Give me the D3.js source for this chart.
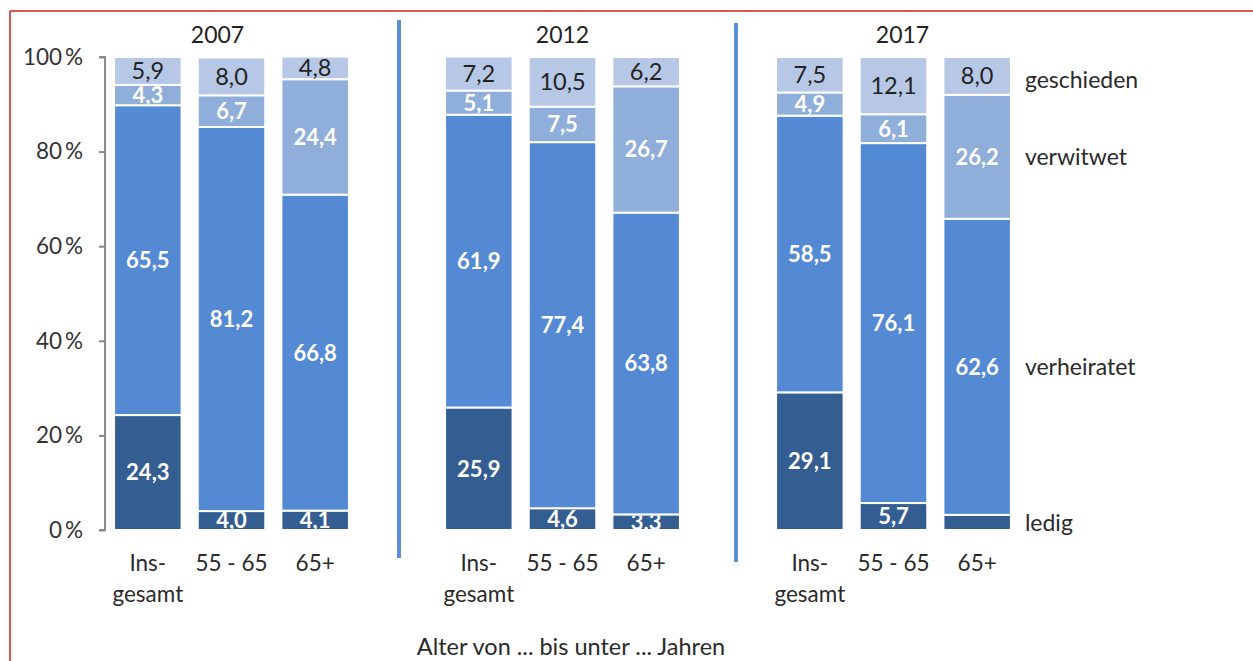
<!DOCTYPE html>
<html>
<head>
<meta charset="utf-8">
<script src="https://cdn.jsdelivr.net/npm/d3@7"></script>
<style>
  html, body { margin: 0; padding: 0; background: #fff; }
  svg { display: block; font-family: "Lato", "Open Sans", sans-serif; }
</style>
</head>
<body>
<svg id="chart" width="1253" height="661"></svg>
<script>
// ---- data ----
const years = ["2007", "2012", "2017"];
const groups = ["Ins-\ngesamt", "55 - 65", "65+"];
const statuses = ["ledig", "verheiratet", "verwitwet", "geschieden"];
// values per year, per age group (Ins-gesamt, 55 - 65, 65+)
const ledig       = { "2007": [24.3, 4.0, 4.1], "2012": [25.9, 4.6, 3.3], "2017": [29.1, 5.7, 3.2] };
const verheiratet = { "2007": [65.5, 81.2, 66.8], "2012": [61.9, 77.4, 63.8], "2017": [58.5, 76.1, 62.6] };
const verwitwet   = { "2007": [4.3, 6.7, 24.4], "2012": [5.1, 7.5, 26.7], "2017": [4.9, 6.1, 26.2] };
const geschieden  = { "2007": [5.9, 8.0, 4.8], "2012": [7.2, 10.5, 6.2], "2017": [7.5, 12.1, 8.0] };
// labels not printed in the original
const hiddenLabels = [["2017", "65+", "ledig"]];
const yTicks = [0, 20, 40, 60, 80, 100];
const axisTitle = "Alter von ... bis unter ... Jahren";

const seriesMap = { ledig, verheiratet, verwitwet, geschieden };
const colors = { ledig: "#345d92", verheiratet: "#548ad4", verwitwet: "#8faed9", geschieden: "#b6c8e6" };
const labelColor = { ledig: "#fff", verheiratet: "#fff", verwitwet: "#fff", geschieden: "#222" };
const labelWeight = { ledig: "bold", verheiratet: "bold", verwitwet: "bold", geschieden: "normal" };

const svg = d3.select("#chart");

// red frame (top + left)
svg.append("line").attr("x1", 10).attr("x2", 1253).attr("y1", 11).attr("y2", 11)
  .attr("stroke", "#d95555").attr("stroke-width", 2);
svg.append("line").attr("x1", 10).attr("x2", 10).attr("y1", 11).attr("y2", 661)
  .attr("stroke", "#d95555").attr("stroke-width", 2);

const y = d3.scaleLinear().domain([0, 100]).range([530, 57]);
const xOuter = d3.scaleBand().domain(years).range([66, 1059]);
const xInner = d3.scaleBand().domain(groups).range([40, 291]).paddingInner(0.193).paddingOuter(0.0965);

// y axis
const yAxis = d3.axisLeft(y).tickValues(yTicks).tickSize(6).tickPadding(16)
  .tickFormat(d => d + "\u2009%");
const ya = svg.append("g").attr("transform", "translate(105,0)").call(yAxis);
ya.select(".domain").attr("stroke", "#8a8a8a").attr("stroke-width", 2).attr("d", "M-6,530H0V57H-6");
ya.selectAll(".tick line").attr("stroke", "#8a8a8a").attr("stroke-width", 2);
ya.selectAll(".tick text").attr("fill", "#333").attr("font-size", 22.5)
  .attr("font-family", "Lato, sans-serif");

// build stacked records
const records = [];
years.forEach(yr => {
  groups.forEach((g, gi) => {
    let acc = 0;
    statuses.forEach(s => {
      const v = seriesMap[s][yr][gi];
      records.push({ year: yr, group: g, status: s, v, y0: acc, y1: acc + v });
      acc += v;
    });
  });
});

const defs = svg.append("defs");
const bars = svg.append("g");
records.forEach((r, i) => {
  const x = xOuter(r.year) + xInner(r.group);
  const w = xInner.bandwidth();
  const top = y(r.y1), bot = y(r.y0);
  bars.append("rect")
    .attr("x", x).attr("y", top).attr("width", w).attr("height", bot - top)
    .attr("fill", colors[r.status]).attr("stroke", "#fff").attr("stroke-width", 2);
  const hidden = hiddenLabels.some(h => h[0] === r.year && h[1] === r.group && h[2] === r.status);
  if (hidden) return;
  const cid = "clip" + i;
  defs.append("clipPath").attr("id", cid).append("rect")
    .attr("x", x).attr("y", top + 1).attr("width", w).attr("height", Math.max(0, bot - top - 2));
  bars.append("text")
    .attr("clip-path", r.status === "geschieden" ? null : `url(#${cid})`)
    .attr("x", x + w / 2).attr("y", (top + bot) / 2).attr("dy", "0.36em")
    .attr("text-anchor", "middle")
    .attr("font-size", r.status === "geschieden" ? 23.5 : 22)
    .attr("font-weight", labelWeight[r.status])
    .attr("fill", labelColor[r.status])
    .text(d3.format(".1f")(r.v).replace(".", ","));
});

// category labels
years.forEach(yr => {
  groups.forEach(g => {
    const cx = xOuter(yr) + xInner(g) + xInner.bandwidth() / 2;
    const t = svg.append("text").attr("x", cx).attr("y", 571).attr("text-anchor", "middle")
      .attr("font-size", 22.5).attr("fill", "#2a2a2a");
    g.split("\n").forEach((line, li) => {
      t.append("tspan").attr("x", cx).attr("dy", li === 0 ? 0 : 31).text(line);
    });
  });
});

// year titles
const yearOffset = { "2007": -14, "2012": 0, "2017": 9 };
years.forEach(yr => {
  svg.append("text").attr("x", xOuter(yr) + xOuter.bandwidth() / 2 + yearOffset[yr]).attr("y", 43)
    .attr("text-anchor", "middle").attr("font-size", 23).attr("fill", "#222").text(yr);
});

// separators
const sepOffset = { "2012": 2, "2017": 8 };
const sepTop = { "2012": 20, "2017": 23 };
const sepBot = { "2012": 558, "2017": 562 };
years.slice(1).forEach(yr => {
  const sx = xOuter(yr) + sepOffset[yr];
  svg.append("line").attr("x1", sx).attr("x2", sx).attr("y1", sepTop[yr]).attr("y2", sepBot[yr])
    .attr("stroke", "#5b8fd6").attr("stroke-width", 4);
});

// legend labels next to the last bar, at its segment centres
const lastYear = years[years.length - 1], lastGroup = groups[groups.length - 1];
const lastX = xOuter(lastYear) + xInner(lastGroup) + xInner.bandwidth() + 14;
records.filter(r => r.year === lastYear && r.group === lastGroup).forEach(r => {
  svg.append("text").attr("x", lastX).attr("y", (y(r.y0) + y(r.y1)) / 2 + (r.status === "geschieden" ? 4 : 0))
    .attr("dy", "0.36em").attr("font-size", 23).attr("fill", "#2a2a2a").text(r.status);
});

// axis title
svg.append("text").attr("x", 571).attr("y", 655).attr("text-anchor", "middle")
  .attr("font-size", 23.5).attr("fill", "#2a2a2a").text(axisTitle);
</script>
</body>
</html>
